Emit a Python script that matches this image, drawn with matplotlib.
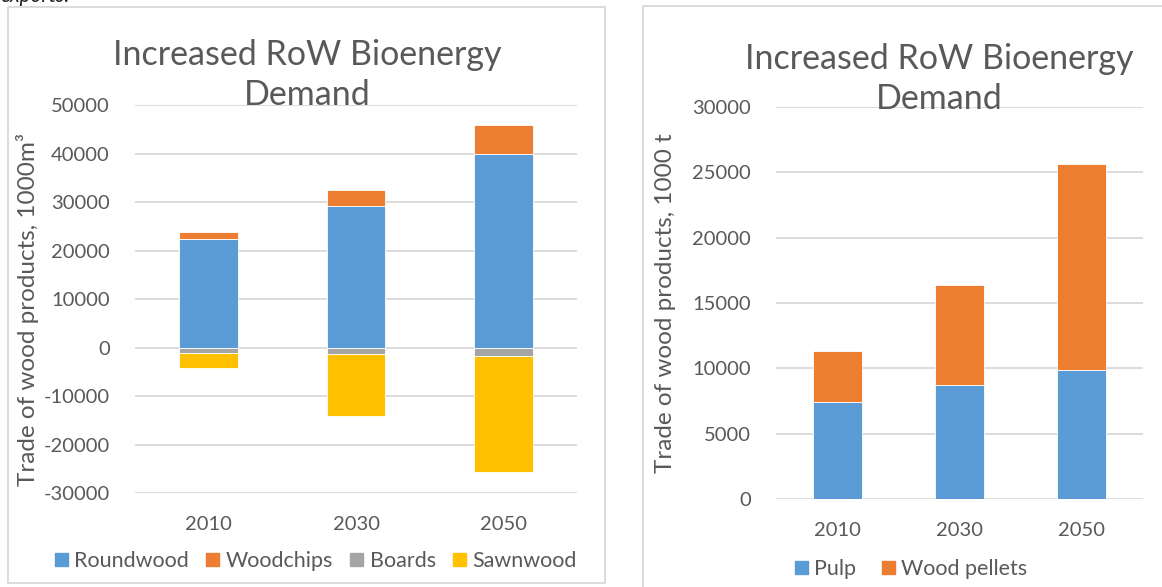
import matplotlib
matplotlib.use("Agg")
import matplotlib.pyplot as plt
from matplotlib.patches import Rectangle, Patch
import numpy as np

plt.rcParams['font.family'] = ['Lato', 'DejaVu Sans']

# ---- data ----
years = ["2010", "2030", "2050"]
roundwood = [22300, 29200, 40000]
woodchips = [1500, 3200, 5900]
boards = [-1100, -1200, -1700]
sawnwood = [-3050, -12800, -24000]

pulp = [7450, 8750, 9880]
wood_pellets = [3900, 7650, 15770]

left_yticks = [-30000, -20000, -10000, 0, 10000, 20000, 30000, 40000, 50000]
right_yticks = [0, 5000, 10000, 15000, 20000, 25000, 30000]

title = "Increased RoW Bioenergy\nDemand"
left_ylabel = "Trade of wood products, 1000m\u00b3"
right_ylabel = "Trade of wood products, 1000 t"

BLUE = "#5B9BD5"
ORANGE = "#ED7D31"
GRAY = "#A5A5A5"
YELLOW = "#FFC000"
TXT = "#595959"
GRID = "#D9D9D9"

W, H = 1162, 587
fig = plt.figure(figsize=(W / 100, H / 100), dpi=100)

def fx(px):
    return px / W

def fy(py):
    return 1 - py / H

# frames
fig.patches.append(Rectangle((fx(8), fy(583)), fx(597), 576 / H, transform=fig.transFigure,
                             fill=False, edgecolor=GRID, linewidth=1.3))
fig.patches.append(Rectangle((fx(643), -0.05), 0.6, fy(6) + 0.05, transform=fig.transFigure,
                             fill=False, edgecolor=GRID, linewidth=1.3))

fig.text(0.0, fy(1.5), "exports.", style='italic', fontsize=15, color="#222222",
         ha='left', va='baseline')

x = np.arange(len(years))
bw = 0.4
TS = 14.5

def style_axes(ax, ticks, ylim):
    ax.set_ylim(*ylim)
    ax.set_xlim(-0.5, len(years) - 0.5)
    ax.set_yticks(ticks)
    ax.set_yticklabels([str(t) for t in ticks], fontsize=TS, color=TXT)
    ax.set_xticks(x)
    ax.set_xticklabels(years, fontsize=TS, color=TXT)
    ax.tick_params(length=0)
    ax.tick_params(axis='y', pad=18)
    ax.tick_params(axis='x', pad=16)
    for s in ax.spines.values():
        s.set_visible(False)
    ax.grid(axis='y', color=GRID, linewidth=1.3)
    ax.set_axisbelow(True)

# ---- left chart ----
axL = fig.add_axes([fx(135), fy(493.3), fx(442), (493.3 - 105) / H])
ek = dict(edgecolor='white', linewidth=0.6)
axL.bar(x, roundwood, bw, color=BLUE, **ek)
axL.bar(x, woodchips, bw, bottom=roundwood, color=ORANGE, **ek)
axL.bar(x, boards, bw, color=GRAY, **ek)
axL.bar(x, sawnwood, bw, bottom=boards, color=YELLOW, **ek)
style_axes(axL, left_yticks, (-30000, 50000))
fig.text(fx(28), fy(310), left_ylabel, rotation=90, fontsize=17.5, color=TXT,
         ha='center', va='center')
fig.text(fx(307), fy(75), title, fontsize=24.5, color=TXT, ha='center', va='center',
         linespacing=1.3)
handlesL = [Patch(color=c) for c in (BLUE, ORANGE, GRAY, YELLOW)]
fig.legend(handlesL, ["Roundwood", "Woodchips", "Boards", "Sawnwood"],
           loc='center', bbox_to_anchor=(fx(316), fy(561)), ncol=4, frameon=False,
           fontsize=15.5, labelcolor=TXT, handlelength=0.6, handleheight=0.6,
           handletextpad=0.3, columnspacing=0.8)

# ---- right chart ----
axR = fig.add_axes([fx(776), fy(499.4), fx(367), (499.4 - 106.7) / H])
axR.bar(x, pulp, bw, color=BLUE, **ek)
axR.bar(x, wood_pellets, bw, bottom=pulp, color=ORANGE, **ek)
style_axes(axR, right_yticks, (0, 30000))
fig.text(fx(665), fy(303), right_ylabel, rotation=90, fontsize=17.5, color=TXT,
         ha='center', va='center')
fig.text(fx(939), fy(79), title, fontsize=24.5, color=TXT, ha='center', va='center',
         linespacing=1.3)
fig.legend([Patch(color=BLUE), Patch(color=ORANGE)], ["Pulp", "Wood pellets"],
           loc='center', bbox_to_anchor=(fx(911), fy(569)), ncol=2, frameon=False,
           fontsize=15.5, labelcolor=TXT, handlelength=0.6, handleheight=0.6,
           handletextpad=0.3, columnspacing=1.2)

fig.savefig("out.png", dpi=100)
